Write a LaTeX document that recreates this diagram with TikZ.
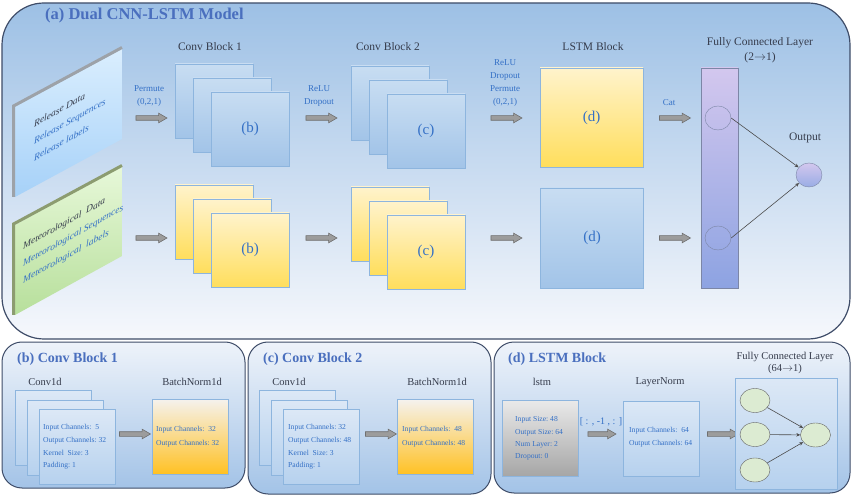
\documentclass[tikz,border=0pt]{standalone}
\usepackage{fontspec}
\setmainfont{Liberation Serif}
\usepackage{tikz}
\usetikzlibrary{shapes.arrows,shapes.geometric}
\usetikzlibrary{arrows.meta}

\definecolor{panelline}{HTML}{3E4C68}
\definecolor{paneltop}{HTML}{9DC0E5}
\definecolor{panelbot}{HTML}{F6F8FC}
\definecolor{subtop}{HTML}{EEF3FA}
\definecolor{subbot}{HTML}{A3C3E7}
\definecolor{titleblue}{HTML}{4A6FBE}
\definecolor{lblblue}{HTML}{3470C6}
\definecolor{headgray}{HTML}{363C4C}
\definecolor{sqline}{HTML}{8DB5DE}
\definecolor{sqtop}{HTML}{C8DDF2}
\definecolor{sqbot}{HTML}{A2C4E8}
\definecolor{yeltop}{HTML}{FFF3CC}
\definecolor{yelbot}{HTML}{FFDE5C}
\definecolor{fctop}{HTML}{D3C7EE}
\definecolor{fcbot}{HTML}{8DA3E2}
\definecolor{fcline}{HTML}{7C86A6}
\definecolor{arrfill}{HTML}{9C9C9C}
\definecolor{arrline}{HTML}{6F6F6F}
\definecolor{bntop}{HTML}{F5F2EE}
\definecolor{bnbot}{HTML}{FFC123}
\definecolor{grtop}{HTML}{EAEAEA}
\definecolor{grbot}{HTML}{A6A6A6}
\definecolor{lntop}{HTML}{DCE8F6}
\definecolor{lnbot}{HTML}{B6D1EE}
\definecolor{nodegreen}{HTML}{DCEBD2}
\definecolor{reltop}{HTML}{DAEEFE}
\definecolor{relbot}{HTML}{A6D1F8}
\definecolor{reledge}{HTML}{9DA2A8}
\definecolor{mettop}{HTML}{E7F8D9}
\definecolor{metbot}{HTML}{B7DF9B}
\definecolor{metedge}{HTML}{8C9C70}

\begin{document}
\begin{tikzpicture}[x=1pt,y=-1pt,
    panelhead/.style={font=\fontsize{11.5}{15}\selectfont, text=headgray, align=center},
    steplbl/.style={font=\fontsize{9}{13}\selectfont, text=lblblue, align=center},
    boxlbl/.style={font=\fontsize{15}{17}\selectfont, text=lblblue},
    fatarrow/.style={single arrow, draw=arrline, fill=arrfill, minimum height=31,
        inner sep=0, inner ysep=2, single arrow head extend=2.5,
        single arrow tip angle=60, line width=0.6},
    bluesq/.style={draw=sqline, top color=sqtop, bottom color=sqbot,
        minimum width=78, minimum height=74, inner sep=0},
    yelsq/.style={draw=sqline, top color=yeltop, bottom color=yelbot,
        minimum width=78, minimum height=74, inner sep=0},
    smallsq/.style={draw=sqline, top color=lntop, bottom color=lnbot,
        minimum width=76, minimum height=75, inner sep=0},
    bnbox/.style={draw=sqline, top color=bntop, bottom color=bnbot,
        minimum width=76, minimum height=75, inner sep=0},
    fcnode/.style={ellipse, draw=fcline, minimum width=26, minimum height=24, inner sep=0},
    greennode/.style={ellipse, draw=black!60, fill=nodegreen,
        minimum width=30, minimum height=24, inner sep=0},
    thinarrow/.style={-{Stealth[length=4,width=3.5]}, draw=black!70, line width=0.6},
    sheettxt/.style={font=\itshape\fontsize{9.5}{17}\selectfont, yslant=0.56,
        anchor=west, inner sep=0, align=left, text=lblblue},
    subtitle/.style={font=\bfseries\fontsize{14}{16}\selectfont, text=titleblue,
        anchor=west, inner sep=0},
    subhead/.style={font=\fontsize{10.5}{12}\selectfont, text=headgray, align=center},
    smalltxt/.style={font=\fontsize{7.6}{12.7}\selectfont, text=lblblue, align=left,
        anchor=west, inner sep=0}
]
\useasboundingbox (0,0) rectangle (852,497);

% ---- panel (a)
\shadedraw[top color=paneltop, bottom color=panelbot, draw=panelline, line width=1.2,
    rounded corners=42] (2,3) rectangle (850,339);
\node[subtitle, font=\bfseries\fontsize{16.5}{18}\selectfont] (tA) at (45,16) {(a) Dual CNN-LSTM Model};

% input sheets
\shade[top color=reltop, bottom color=relbot] (15,107) -- (122,49) -- (122,139) -- (15,197) -- cycle;
\draw[line width=3, draw=reledge] (13.5,197) -- (13.5,106) -- (122,47.5);
\shade[top color=mettop, bottom color=metbot] (15,225) -- (122,166) -- (122,256) -- (15,315) -- cycle;
\draw[line width=3, draw=metedge] (13.5,315) -- (13.5,224) -- (122,165.5);

\node[sheettxt] (relTxt) at (34,141)
    {\textcolor{headgray}{Release Data}\\Release Sequences\\Release labels};
\node[sheettxt] (metTxt) at (23,264)
    {\textcolor{headgray}{Meteorological\ \ Data}\\Meteorological Sequences\\Meteorological\ \ labels};

% block headers
\node[panelhead] (hCb1) at (210,47) {Conv Block 1};
\node[panelhead] (hCb2) at (388,47) {Conv Block 2};
\node[panelhead] (hLstm) at (593,47) {LSTM Block};
\node[panelhead] (hFc) at (760,50) {Fully Connected Layer\\(2$\to$1)};

% stacked conv blocks
\foreach \i in {1,2,3}{
    \pgfmathsetmacro\dx{18*(\i-1)};
    \pgfmathsetmacro\dy{14*(\i-1)};
    \node[bluesq] (cbA\i) at (214+\dx,101+\dy) {};
    \node[yelsq] (cbB\i) at (214+\dx,222+\dy) {};
    \node[bluesq] (ccA\i) at (390+\dx,103+\dy) {};
    \node[yelsq] (ccB\i) at (390+\dx,224+\dy) {};
}
\node[boxlbl] (lbA) at (cbA3) {(b)};
\node[boxlbl] (lbB) at (cbB3) {(b)};
\node[boxlbl] (lcA) at (ccA3) {(c)};
\node[boxlbl] (lcB) at (ccB3) {(c)};

% lstm blocks
\node[yelsq, minimum width=103, minimum height=99] (lstmT) at (591.5,117.5) {};
\node[bluesq, minimum width=103, minimum height=100] (lstmB) at (592,238) {};
\node[boxlbl] (ldA) at (lstmT) {(d)};
\node[boxlbl] (ldB) at (lstmB) {(d)};

% step labels and arrows
\node[steplbl] (lPerm) at (149,96.5) {Permute\\(0,2,1)};
\node[steplbl] (lRelu) at (319,96.5) {ReLU\\Dropout};
\node[steplbl] (lMix) at (505,83.5) {ReLU\\Dropout\\Permute\\(0,2,1)};
\node[steplbl] (lCat) at (669,103) {Cat};
\foreach \nm/\x in {aPerm/149.5, aRelu/319.5, aMix/504.5, aCat/673}{
    \node[fatarrow] (\nm T) at (\x,118) {};
    \node[fatarrow] (\nm B) at (\x,238) {};
}

% fully connected layer
\node[draw=fcline, top color=fctop, bottom color=fcbot, minimum width=37,
    minimum height=220, inner sep=0] (fcBar) at (719.5,178) {};
\node[fcnode] (fcIn1) at (718,118) {};
\node[fcnode] (fcIn2) at (718,238) {};
\node[fcnode, top color=fctop, bottom color=fcbot!90!white] (outN) at (809,175) {};
\node[panelhead] (hOut) at (805,138) {Output};
\draw[thinarrow] (fcIn1.east) -- (outN);
\draw[thinarrow] (fcIn2.east) -- (outN);

% ---- panel (b)
\shadedraw[top color=subtop, bottom color=subbot, draw=panelline, line width=1,
    rounded corners=20] (2,342) rectangle (245,488);
\node[subtitle] (tB) at (17,359) {(b) Conv Block 1};
\node[subhead] (hConvB) at (45,382) {Conv1d};
\node[subhead] (hBnB) at (192,382) {BatchNorm1d};

% ---- panel (c)
\shadedraw[top color=subtop, bottom color=subbot, draw=panelline, line width=1,
    rounded corners=20] (248,342) rectangle (491,494);
\node[subtitle] (tC) at (263,359) {(c) Conv Block 2};
\node[subhead] (hConvC) at (289,382) {Conv1d};
\node[subhead] (hBnC) at (437,382) {BatchNorm1d};

\foreach \i in {1,2,3}{
    \pgfmathsetmacro\dx{12*(\i-1)};
    \pgfmathsetmacro\dy{9.5*(\i-1)};
    \node[smallsq] (sb\i) at (53+\dx,428+\dy) {};
    \node[smallsq] (sc\i) at (297.5+\dx,428+\dy) {};
}
\node[smalltxt] (tsB) at (43,447) {Input Channels:\ \ 5\\Output Channels:\ 32\\Kernel\ \ Size:\ 3\\Padding:\ 1};
\node[smalltxt] (tsC) at (288,447) {Input Channels:\ 32\\Output Channels:\ 48\\Kernel\ \ Size:\ 3\\Padding:\ 1};
\node[fatarrow] (aB) at (133,434) {};
\node[fatarrow] (aC) at (379,434) {};
\node[bnbox] (bnB) at (190,436.5) {};
\node[bnbox] (bnC) at (435.5,437) {};
\node[smalltxt, font=\fontsize{7.6}{14}\selectfont] (tbnB) at (156,437) {Input Channels:\ \ 32\\Output Channels:\ 32};
\node[smalltxt, font=\fontsize{7.6}{14}\selectfont] (tbnC) at (402,437) {Input Channels:\ \ 48\\Output Channels:\ 48};

% ---- panel (d)
\shadedraw[top color=subtop, bottom color=subbot, draw=panelline, line width=1,
    rounded corners=20] (494,342) rectangle (850,493);
\node[subtitle] (tD) at (508,359) {(d) LSTM Block};
\node[subhead] (hLs) at (542,382) {lstm};
\node[subhead] (hLn) at (660,382) {LayerNorm};
\node[subhead] (hFcD) at (785,363) {Fully Connected Layer\\(64$\to$1)};

\node[draw=sqline, top color=grtop, bottom color=grbot, minimum width=76,
    minimum height=76, inner sep=0] (lsBox) at (540,438) {};
\node[smalltxt, font=\fontsize{7.6}{12.3}\selectfont] (tLs) at (515,438.5) {Input Size:\ 48\\Output Size:\ 64\\Num Layer:\ 2\\Dropout:\ 0};
\node[steplbl, font=\fontsize{10}{12}\selectfont] (lSlice) at (601,422) {[ : , -1 , : ]};
\node[fatarrow, minimum height=28] (aD1) at (600,434) {};
\node[smallsq] (lnBox) at (661,438.5) {};
\node[smalltxt, font=\fontsize{7.6}{13}\selectfont] (tLn) at (629,437.5) {Input Channels:\ \ 64\\Output Channels:\ 64};
\node[fatarrow] (aD2) at (721,434) {};

\node[draw=sqline, top color=lntop, bottom color=lnbot, minimum width=102,
    minimum height=111, inner sep=0] (fcBox) at (786,433.5) {};
\node[greennode] (g1) at (755,400.5) {};
\node[greennode] (g2) at (755,434.5) {};
\node[greennode] (g3) at (755,470) {};
\node[greennode] (gOut) at (815.5,435) {};
\foreach \n in {g1,g2,g3}
    \draw[thinarrow] (\n) -- (gOut);

\end{tikzpicture}
\end{document}
